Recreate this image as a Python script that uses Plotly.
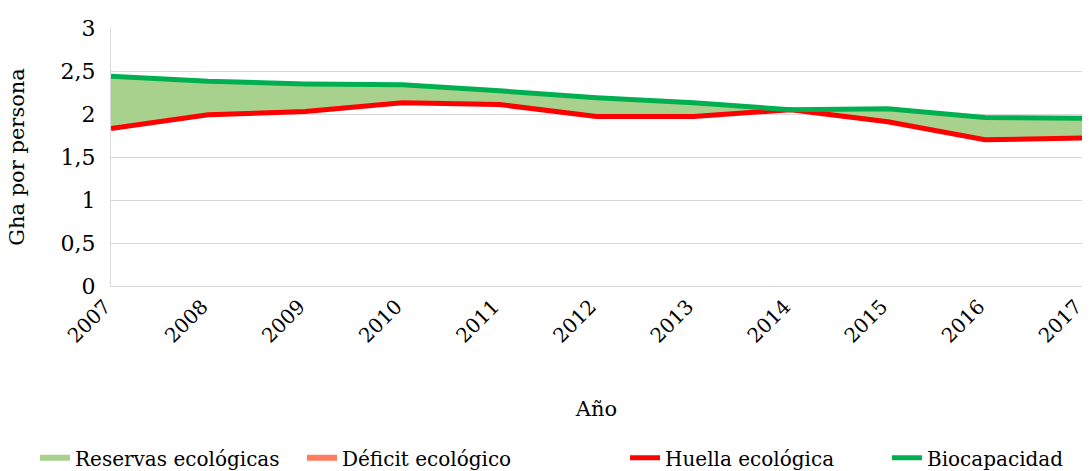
import plotly.graph_objects as go

anios = [2007, 2008, 2009, 2010, 2011, 2012, 2013, 2014, 2015, 2016, 2017]
biocapacidad = [2.44, 2.38, 2.35, 2.34, 2.27, 2.19, 2.13, 2.05, 2.06, 1.96, 1.95]
huella = [1.83, 1.99, 2.03, 2.13, 2.11, 1.97, 1.97, 2.05, 1.91, 1.70, 1.72]

# stacked area like the Excel original: base + reserve + deficit
base = [min(b, h) for b, h in zip(biocapacidad, huella)]
reserva = [max(b - h, 0) for b, h in zip(biocapacidad, huella)]
deficit = [max(h - b, 0) for b, h in zip(biocapacidad, huella)]

fuente = "DejaVu Serif"

fig = go.Figure()
fig.add_trace(go.Scatter(x=anios, y=base, stackgroup="a", mode="none",
                         fillcolor="rgba(0,0,0,0)", showlegend=False, hoverinfo="skip"))
fig.add_trace(go.Scatter(x=anios, y=reserva, stackgroup="a", mode="none",
                         fillcolor="#A9D18E", name="Reservas ecológicas", legend="legend"))
fig.add_trace(go.Scatter(x=anios, y=deficit, stackgroup="a", mode="none",
                         fillcolor="#FF7C5F", name="Déficit ecológico", legend="legend2"))
fig.add_trace(go.Scatter(x=anios, y=huella, mode="lines", name="Huella ecológica",
                         line=dict(color="#FF0000", width=5), legend="legend3"))
fig.add_trace(go.Scatter(x=anios, y=biocapacidad, mode="lines", name="Biocapacidad",
                         line=dict(color="#00B050", width=5), legend="legend4"))

# one legend box per entry so the entries sit where the original has them
ley_x = [0.0321, 0.2768, 0.5729, 0.8130]
ley = {}
for i, xx in enumerate(ley_x):
    clave = "legend" if i == 0 else "legend%d" % (i + 1)
    ley[clave] = dict(orientation="h", x=xx, xanchor="left", xref="container",
                      y=0.028, yanchor="middle", yref="container",
                      font=dict(family=fuente, size=20), itemwidth=30,
                      bgcolor="rgba(0,0,0,0)")

fig.update_layout(
    width=1091, height=471,
    margin=dict(l=111, r=9, t=28, b=185),
    plot_bgcolor="white", paper_bgcolor="white",
    separators=",.",
    font=dict(family=fuente, size=22, color="#000000"),
    xaxis=dict(range=[2007, 2017], tickmode="array", tickvals=anios,
               ticktext=[str(a) for a in anios], tickangle=-45, automargin=False,
               ticklabeloverflow="allow", ticklabelshift=-6,
               tickfont=dict(family=fuente, size=20),
               showgrid=False, showline=True, linecolor="#D9D9D9", linewidth=1,
               zeroline=False,
               title=dict(text="Año", font=dict(family=fuente, size=21), standoff=54)),
    yaxis=dict(range=[0, 3], dtick=0.5, showgrid=True, gridcolor="#D9D9D9", gridwidth=1,
               showline=True, linecolor="#D9D9D9", zeroline=False, ticks="",
               tickfont=dict(family=fuente, size=22),
               ticklabelstandoff=10, automargin=False,
               title=dict(text="Gha por persona", font=dict(family=fuente, size=21), standoff=30)),
    **ley
)

fig.write_html("out.html", config={"displayModeBar": False},
               post_script="document.body.style.margin='0';")
